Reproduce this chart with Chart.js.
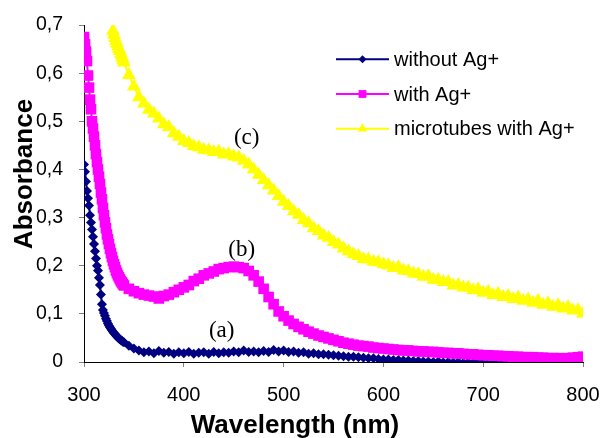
<!DOCTYPE html>
<html>
<head>
<meta charset="utf-8">
<script src="https://cdn.jsdelivr.net/npm/chart.js@4.4.1/dist/chart.umd.min.js"></script>
<style>
html,body{margin:0;padding:0;background:#fff;}
#wrap{width:603px;height:438px;position:relative;}
</style>
</head>
<body>
<div id="wrap"><canvas id="c" width="603" height="438"></canvas></div>
<script>
// Wavelength grid (nm)
const wavelengths = [
  300,301,302,303,304,305,306,307,308,309,310,311,312,313,314,315,316,317,318,319,
  320,321,322,323,324,325,326,327,328,329,330,331,332,333,334,335,336,337,338,339,340,
  345,350,355,360,365,370,375,380,385,390,395,400,405,410,415,420,425,430,435,440,
  445,450,455,460,465,470,475,480,485,490,495,500,505,510,515,520,525,530,535,540,
  545,550,555,560,565,570,575,580,585,590,595,600,605,610,615,620,625,630,635,640,
  645,650,655,660,665,670,675,680,685,690,695,700,705,710,715,720,725,730,735,740,
  745,750,755,760,765,770,775,780,785,790,795,800
];

const withoutAg = [
  0.41,0.395,0.375,0.355,0.34,0.325,0.305,0.29,0.275,0.26,0.245,0.23,0.215,0.2,0.19,0.175,0.16,0.14,0.12,0.108,
  0.102,0.096,0.09,0.085,0.08,0.076,0.072,0.069,0.066,0.063,0.06,0.058,0.055,0.053,0.051,0.049,0.047,0.045,0.044,0.042,0.041,
  0.034,0.028,0.024,0.02,0.022,0.018,0.023,0.019,0.021,0.017,0.02,0.018,0.021,0.017,0.019,0.02,0.017,0.021,0.018,0.02,
  0.019,0.022,0.02,0.024,0.021,0.022,0.02,0.023,0.021,0.025,0.022,0.024,0.021,0.022,0.019,0.02,0.017,0.018,0.016,0.016,
  0.015,0.014,0.013,0.012,0.011,0.011,0.01,0.009,0.008,0.008,0.006,0.005,0.005,0.004,0.004,0.003,0.003,0.002,0.002,0.001,
  0.001,0,0.001,-0.001,0,-0.001,0,-0.002,-0.001,-0.002,-0.001,-0.002,-0.002,-0.001,-0.002,-0.003,-0.002,-0.002,-0.003,-0.002,
  -0.002,-0.003,-0.002,-0.003,-0.002,-0.003,-0.002,-0.003,-0.002,-0.003,-0.002,-0.002
];

const withAg = [
  0.675,0.66,0.645,0.625,0.595,0.57,0.545,0.525,0.5,0.485,0.468,0.45,0.432,0.415,0.4,0.385,0.37,0.352,0.338,0.32,
  0.305,0.29,0.278,0.265,0.255,0.245,0.235,0.226,0.218,0.21,0.203,0.197,0.19,0.185,0.18,0.176,0.172,0.168,0.165,0.162,0.159,
  0.152,0.147,0.143,0.14,0.138,0.136,0.132,0.137,0.14,0.145,0.15,0.155,0.16,0.168,0.173,0.18,0.184,0.188,0.193,0.195,
  0.197,0.198,0.197,0.195,0.189,0.18,0.167,0.152,0.135,0.12,0.105,0.095,0.086,0.079,0.073,0.068,0.063,0.059,0.055,0.052,
  0.049,0.046,0.043,0.04,0.038,0.036,0.034,0.033,0.032,0.03,0.029,0.028,0.027,0.026,0.025,0.024,0.024,0.023,0.022,0.022,
  0.021,0.021,0.02,0.019,0.019,0.018,0.018,0.017,0.016,0.016,0.015,0.014,0.014,0.013,0.013,0.012,0.012,0.011,0.011,0.01,
  0.01,0.01,0.009,0.009,0.008,0.008,0.008,0.007,0.008,0.009,0.01,0.011
];

const microtubes = [
  null,null,null,null,null,null,null,null,null,null,null,null,null,null,null,null,null,null,null,null,
  null,null,null,null,null,null,null,null,null,0.688,0.68,0.673,0.667,0.661,0.655,0.65,0.646,0.64,0.634,0.628,0.622,
  0.596,0.572,0.55,0.537,0.524,0.516,0.506,0.494,0.488,0.475,0.468,0.459,0.455,0.448,0.446,0.441,0.44,0.436,0.437,0.431,
  0.432,0.427,0.425,0.418,0.41,0.4,0.389,0.378,0.367,0.356,0.345,0.333,0.324,0.313,0.306,0.295,0.288,0.278,0.272,0.263,
  0.258,0.249,0.244,0.236,0.23,0.224,0.22,0.214,0.213,0.208,0.207,0.203,0.201,0.195,0.197,0.19,0.189,0.184,0.183,0.177,
  0.178,0.171,0.171,0.166,0.166,0.159,0.16,0.155,0.155,0.149,0.151,0.144,0.146,0.139,0.142,0.135,0.137,0.131,0.134,0.127,
  0.13,0.123,0.127,0.119,0.122,0.115,0.118,0.111,0.114,0.107,0.108,0.101
];

const seriesNames = ['without Ag+', 'with Ag+', 'microtubes with Ag+'];
const xTicks = [300, 400, 500, 600, 700, 800];
const yTicks = [0, 0.1, 0.2, 0.3, 0.4, 0.5, 0.6, 0.7];

// Curve annotations (data units)
const annoText = ['(a)', '(b)', '(c)'];
const annoX = [438, 458, 463];
const annoY = [0.064, 0.233, 0.466];

const colors = ['#000080', '#FF00FF', '#FFFF00'];
const styles = ['rectRot', 'rect', 'triangle'];
const radii = [5, 7.5, 8];
const legendRadii = [4, 5.5, 5.5];

function pts(arr){ return wavelengths.map((x,i)=>({x:x, y:arr[i]})); }

function drawMarker(ctx, style, r, x, y, color){
  ctx.fillStyle = color; ctx.beginPath();
  if (style === 'rectRot'){
    ctx.moveTo(x, y-r); ctx.lineTo(x+r, y); ctx.lineTo(x, y+r); ctx.lineTo(x-r, y); ctx.closePath();
  } else if (style === 'rect'){
    const s = Math.SQRT1_2*r; ctx.rect(x-s, y-s, 2*s, 2*s);
  } else {
    const w = r*Math.sqrt(3)/2;
    ctx.moveTo(x, y-r); ctx.lineTo(x+w, y+r*0.5); ctx.lineTo(x-w, y+r*0.5); ctx.closePath();
  }
  ctx.fill();
}

const overlay = {
  id: 'overlay',
  afterDraw(chart){
    const ctx = chart.ctx, xs = chart.scales.x, ys = chart.scales.y;
    ctx.save();
    ctx.fillStyle = '#000';
    ctx.font = '23px "Liberation Serif"';
    ctx.textAlign = 'center'; ctx.textBaseline = 'middle';
    annoText.forEach((t,i)=>{
      ctx.fillText(t, xs.getPixelForValue(annoX[i]), ys.getPixelForValue(annoY[i]));
    });
    // axis titles
    ctx.font = 'bold 26px "Liberation Sans"';
    ctx.textBaseline = 'alphabetic';
    ctx.fillText('Wavelength (nm)', 295, 433);
    ctx.save();
    ctx.translate(32, 174); ctx.rotate(-Math.PI/2);
    ctx.fillText('Absorbance', 0, 0);
    ctx.restore();
    // legend
    ctx.font = '20px "Liberation Sans"';
    ctx.textAlign = 'left';
    chart.data.datasets.forEach((ds,i)=>{
      const y = 59.3 + i*34.7;
      ctx.strokeStyle = ds.borderColor; ctx.lineWidth = 2;
      ctx.beginPath(); ctx.moveTo(336, y); ctx.lineTo(389, y); ctx.stroke();
      drawMarker(ctx, ds.pointStyle, legendRadii[i], 362.5, y, ds.borderColor);
      ctx.fillStyle = '#000';
      ctx.fillText(ds.label, 394, y + 6.7);
    });
    ctx.restore();
  }
};

const datasets = [withoutAg, withAg, microtubes].map((arr,i)=>({
  label: seriesNames[i],
  data: pts(arr),
  borderColor: colors[i],
  backgroundColor: colors[i],
  borderWidth: 2,
  pointStyle: styles[i],
  pointRadius: radii[i],
  pointBorderWidth: 0,
  pointBackgroundColor: colors[i],
  pointBorderColor: colors[i],
  tension: 0,
  spanGaps: false,
  order: 3 - i
}));

new Chart(document.getElementById('c'), {
  type: 'line',
  data: { datasets },
  options: {
    responsive: false,
    animation: false,
    layout: { autoPadding: false, padding: { top: 25, right: 20, left: 0, bottom: 0 } },
    plugins: { legend: { display: false }, tooltip: { enabled: false }, title: { display: false } },
    scales: {
      x: {
        type: 'linear', min: 300, max: 800,
        afterFit(s){ s.height = 76; s.paddingLeft = 0; s.paddingRight = 0; },
        afterBuildTicks(s){ s.ticks = xTicks.map(v=>({value:v})); },
        ticks: { color: '#000', font: { family: 'Liberation Sans', size: 20 }, padding: 16, maxRotation: 0 },
        grid: { drawOnChartArea: false, drawTicks: true, tickLength: 5, color: '#808080' },
        border: { display: true, color: '#000', width: 1 },
        title: { display: false }
      },
      y: {
        min: 0, max: 0.7,
        afterFit(s){ s.width = 84; s.paddingTop = 0; s.paddingBottom = 0; },
        afterBuildTicks(s){ s.ticks = yTicks.map(v=>({value:v})); },
        ticks: {
          color: '#000', font: { family: 'Liberation Sans', size: 19.5 }, padding: 16,
          callback: v => v === 0 ? '0' : v.toFixed(1).replace('.', ',')
        },
        grid: { drawOnChartArea: false, drawTicks: true, tickLength: 5, color: '#808080' },
        border: { display: true, color: '#000', width: 1 },
        title: { display: false }
      }
    }
  },
  plugins: [overlay]
});
</script>
</body>
</html>
